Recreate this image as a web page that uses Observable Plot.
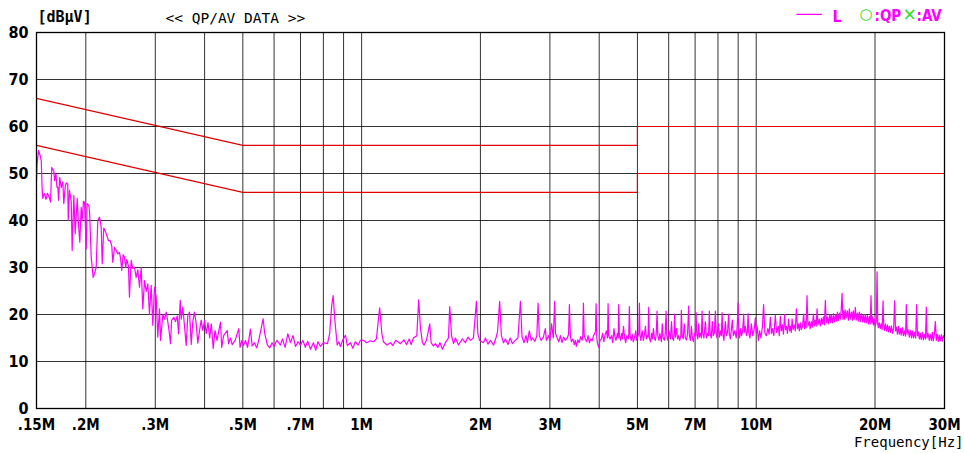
<!DOCTYPE html>
<html>
<head>
<meta charset="utf-8">
<script src="https://cdn.jsdelivr.net/npm/d3@7"></script>
<script src="https://cdn.jsdelivr.net/npm/@observablehq/plot@0.6"></script>
<style>
  html, body { margin: 0; padding: 0; background: #fff; }
  #chart svg { display: block; background: #fff; }
</style>
</head>
<body>
<div id="chart"></div>
<script>
// ---- tick values and labels ----
const xTicks = [0.15, 0.2, 0.3, 0.5, 0.7, 1, 2, 3, 5, 7, 10, 20, 30];
const xTickLabels = [".15M", ".2M", ".3M", ".5M", ".7M", "1M", "2M", "3M", "5M", "7M", "10M", "20M", "30M"];
const xGrid = [0.2, 0.3, 0.4, 0.5, 0.6, 0.7, 0.8, 0.9, 1, 2, 3, 4, 5, 6, 7, 8, 9, 10, 20];
const yTicks = [0, 10, 20, 30, 40, 50, 60, 70, 80];
const yGrid = [10, 20, 30, 40, 50, 60, 70];

// ---- limit lines (QP and AV) ----
const limitFreq = [0.15, 0.5, 5, 5, 30];
const limitQP = [66, 56, 56, 60, 60];
const limitAV = [56, 46, 46, 50, 50];

// ---- measured trace "L" [MHz, dBuV] ----
const traceL = [
[0.150,48.5],[0.1505,52],[0.1518,54.9],[0.1530,54],[0.1542,52.8],[0.1550,47],[0.1556,44.7],[0.1565,45.5],[0.1572,45.7],[0.1585,44.5],[0.1599,45.8],[0.1615,45.0],[0.1628,43.9],[0.1634,48],[0.1640,51.3],[0.1650,50.8],[0.1659,50.6],[0.1667,48.5],[0.1673,49.2],[0.1680,50.0],[0.1690,47.1],[0.1699,47.1],[0.1706,44.3],[0.1718,49.2],[0.1733,47.0],[0.1749,48.2],[0.1759,43.6],[0.1773,47.1],[0.1784,48.0],[0.1800,47.7],[0.1805,40.0],[0.1818,46.4],[0.1837,44.0],[0.1847,33.6],[0.1865,45.3],[0.1880,37.2],[0.1902,44.7],[0.1916,39.3],[0.1931,35.4],[0.1947,42.8],[0.1958,40.0],[0.1973,44.1],[0.1985,43.9],[0.2005,34.0],[0.2016,43.6],[0.2035,43.2],[0.2045,41.7],[0.2064,32.2],[0.2088,27.9],[0.2104,28.7],[0.2125,30.0],[0.2145,40.0],[0.2166,40.7],[0.2188,38.6],[0.2201,30.8],[0.2221,38.4],[0.2240,37.8],[0.2261,36.8],[0.2283,35.7],[0.2306,35.7],[0.2328,34.5],[0.2341,31.1],[0.2365,34.3],[0.2388,33.6],[0.2410,32.9],[0.2434,33.2],[0.2450,32.0],[0.2467,29.4],[0.2487,32.7],[0.2506,32.2],[0.2525,30.0],[0.2540,31.7],[0.2565,30.3],[0.2580,23.7],[0.2606,31.5],[0.2630,29.8],[0.2657,30.0],[0.2683,27.9],[0.2709,29.5],[0.2736,25.8],[0.2763,30.0],[0.2789,21.2],[0.2817,27.2],[0.2845,24.9],[0.2872,26.5],[0.2900,20.1],[0.2929,26.2],[0.2957,17.7],[0.2986,25.8],[0.3016,23.7],[0.3044,15.2],[0.3075,21.2],[0.3093,14.5],[0.3135,20.0],[0.3166,19.0],[0.3198,20.5],[0.3228,18.4],[0.3250,16.6],[0.3279,13.8],[0.3300,18.8],[0.3343,19.4],[0.3376,18.5],[0.3410,19.7],[0.3436,15.9],[0.3470,23.0],[0.3490,19.0],[0.3523,21.6],[0.3558,17.5],[0.3593,13.4],[0.3627,19.8],[0.3663,20.5],[0.3700,13.6],[0.3734,18.5],[0.3771,20.5],[0.3809,18.0],[0.3844,13.9],[0.3883,16.5],[0.3921,18.8],[0.3958,16.6],
[0.400,18.7],[0.404,16.0],[0.408,18.3],[0.412,15.0],[0.416,18.0],[0.4206,12.8],[0.425,16.6],[0.430,14.5],[0.4389,18.4],[0.442,13.0],[0.447,15.5],[0.4564,16.6],[0.460,13.8],[0.465,15.0],[0.470,13.6],[0.478,14.5],[0.4883,17.0],[0.492,13.0],[0.497,14.5],[0.502,13.4],[0.508,14.5],[0.514,13.0],[0.5227,16.9],[0.528,13.3],[0.535,14.0],[0.542,12.9],[0.5486,14.5],[0.555,16.5],[0.5629,19.1],[0.568,16.0],[0.5772,13.5],[0.585,12.9],[0.593,14.0],[0.600,13.2],[0.610,14.5],[0.6228,13.5],[0.630,14.8],[0.640,13.0],[0.650,15.9],[0.6602,14.0],[0.670,15.5],[0.680,13.2],[0.690,14.2],[0.700,13.5],[0.710,14.5],[0.720,13.0],[0.730,14.3],[0.742,12.6],[0.755,14.0],[0.765,12.4],[0.775,14.2],[0.7866,13.2],[0.800,14.0],[0.8194,13.8],[0.830,16.0],[0.840,22.0],[0.847,24.0],[0.855,19.0],[0.867,13.5],[0.875,14.2],[0.884,13.2],[0.895,14.5],[0.910,15.6],[0.920,13.4],[0.937,14.0],[0.950,12.8],[0.964,14.2],[0.980,13.5],[0.993,14.5],
[1.011,14.5],[1.03,14.0],[1.053,14.4],[1.072,14.2],[1.09,14.8],[1.111,21.4],[1.125,16.0],[1.136,14.2],[1.16,13.5],[1.183,14.0],[1.20,13.4],[1.22,14.5],[1.254,13.8],[1.28,14.6],[1.30,13.6],[1.32,14.8],[1.335,13.6],[1.353,15.0],[1.38,15.5],[1.395,23.1],[1.41,17.0],[1.426,14.0],[1.44,13.5],[1.46,14.5],[1.488,18.0],[1.50,14.0],[1.52,13.3],[1.538,13.8],[1.56,13.0],[1.58,14.0],[1.602,12.6],[1.63,14.0],[1.66,15.0],[1.672,21.7],[1.69,15.5],[1.71,13.8],[1.729,15.0],[1.76,13.5],[1.80,14.8],[1.832,14.0],[1.86,15.2],[1.887,14.5],[1.92,15.0],[1.954,22.8],[1.97,16.0],[1.99,14.5],[2.035,14.0],[2.06,15.0],[2.09,13.7],[2.12,14.5],[2.16,13.5],[2.19,15.0],[2.21,16.3],[2.238,22.8],[2.26,15.5],[2.29,14.0],[2.314,14.8],[2.35,13.6],[2.38,15.0],[2.41,13.8],[2.45,14.5],[2.49,15.0],[2.526,22.8],[2.55,15.2],[2.58,14.0],[2.61,15.5],[2.631,14.0],[2.66,16.5],[2.69,14.5],[2.709,15.0],[2.75,14.3],[2.78,15.5],[2.800,22.4],[2.82,15.5],[2.85,14.5],[2.888,15.2],[2.92,17.0],[2.94,14.5],[2.974,15.5],[3.00,14.5],[3.03,18.0],[3.06,15.0],[3.085,22.8],[3.10,16.0],
[3.13,15.0],[3.16,14.2],[3.19,15.5],[3.22,14.0],[3.25,15.2],[3.28,14.5],[3.32,15.0],[3.345,15.8],[3.362,22.1],[3.38,15.5],[3.40,14.2],[3.43,14.8],[3.46,13.6],[3.48,14.5],[3.50,13.2],[3.53,14.6],[3.56,14.0],[3.59,15.3],[3.62,14.5],[3.635,15.5],[3.648,22.4],[3.665,15.5],[3.69,14.8],[3.72,14.2],[3.75,15.5],[3.778,14.0],[3.81,14.8],[3.84,14.4],[3.87,15.5],[3.90,16.0],[3.915,16.5],[3.928,22.3],[3.945,15.0],[3.96,13.8],[3.99,13.0],[4.02,14.5],[4.052,14.8],[4.08,16.0],[4.11,14.2],[4.14,15.6],[4.17,16.5],[4.20,15.0],[4.213,22.3],[4.23,15.5],[4.26,14.8],[4.30,15.5],[4.33,14.0],[4.36,17.0],[4.38,15.5],[4.41,14.5],[4.45,16.0],[4.47,15.0],[4.482,22.1],[4.50,15.5],[4.53,14.5],[4.56,16.0],[4.58,14.8],[4.61,17.5],[4.64,15.0],[4.67,14.0],[4.70,15.5],[4.74,14.8],[4.755,16.0],[4.770,21.7],[4.79,15.5],[4.82,14.5],[4.85,15.8],[4.88,14.2],[4.912,15.0],[4.95,16.5],[4.98,14.5],[5.02,15.5],[5.04,16.0],[5.057,22.4],[5.075,15.5],[5.10,14.5],[5.14,16.5],[5.176,14.5],[5.21,15.8],[5.24,17.5],[5.27,14.8],[5.30,15.5],[5.32,15.2],[5.339,21.5],[5.36,15.0],[5.40,14.2],[5.43,16.0],[5.456,14.8],[5.49,17.0],[5.52,15.0],[5.55,14.5],[5.58,16.0],[5.607,20.7],[5.63,15.5],[5.67,14.5],[5.70,16.0],[5.75,14.2],[5.78,18.0],[5.81,15.0],[5.85,14.5],[5.88,15.8],[5.910,20.7],[5.935,15.5],[5.97,14.5],[6.01,16.5],[6.060,14.8],[6.10,18.5],[6.13,15.0],[6.17,14.5],[6.19,15.8],[6.213,20.1],[6.24,15.2],[6.28,17.0],[6.32,14.8],[6.349,15.5],[6.40,14.5],[6.44,15.5],[6.461,20.9],[6.49,15.5],[6.53,14.8],[6.57,18.0],[6.614,15.0],[6.66,14.6],[6.70,16.0],[6.743,21.8],[6.77,15.5],[6.81,14.5],[6.85,17.5],[6.890,15.0],[6.93,14.2],[6.98,16.0],[7.01,15.5],[7.040,20.4],[7.07,15.8],[7.11,14.8],[7.15,18.0],[7.177,15.2],[7.22,16.0],[7.26,15.0],[7.291,20.7],[7.32,16.0],[7.37,15.0],[7.432,18.5],[7.48,15.0],[7.53,16.0],[7.57,15.5],[7.608,20.7],[7.64,16.0],[7.69,15.0],[7.742,18.5],[7.78,15.5],[7.83,16.0],[7.879,20.7],[7.91,16.5],[7.95,15.0],[8.018,18.0],[8.07,15.2],[8.12,16.5],[8.16,15.5],[8.193,20.4],[8.23,16.0],[8.28,14.5],[8.352,18.5],[8.40,15.5],[8.46,16.2],[8.514,20.1],[8.55,15.8],[8.60,14.8],[8.700,18.8],[8.75,15.5],[8.82,16.5],[8.90,15.0],[8.95,17.5],[8.995,22.4],[9.03,16.0],[9.08,15.0],[9.116,17.0],[9.18,15.5],[9.24,16.5],[9.293,20.1],[9.33,16.2],[9.386,17.5],[9.45,15.5],[9.50,16.5],[9.535,20.2],[9.58,16.0],[9.64,15.0],[9.721,18.0],[9.80,15.5],[9.88,16.8],[9.950,19.3],[10.00,16.0],[10.05,17.5],
[10.13,14.5],[10.20,16.5],[10.28,15.0],[10.37,17.5],[10.44,22.1],[10.52,16.0],[10.61,15.5],[10.70,17.0],[10.78,15.8],[10.86,19.4],[10.93,16.0],[10.99,17.0],[11.08,15.5],[11.18,19.8],[11.26,16.2],[11.38,17.5],[11.44,15.5],[11.51,19.6],[11.58,16.5],[11.65,17.8],[11.72,15.8],[11.80,20.0],[11.86,16.8],[11.92,17.5],[12.00,16.0],[12.08,19.0],[12.15,16.5],[12.21,17.5],[12.27,16.2],[12.33,19.0],[12.40,16.8],[12.49,17.8],[12.56,16.5],[12.64,21.2],[12.72,17.0],[12.80,18.0],[12.86,16.5],[12.94,18.2],[13.01,16.8],[13.10,17.5],[13.19,20.1],[13.26,17.0],[13.32,18.5],[13.38,17.2],[13.45,24.0],[13.52,17.5],[13.63,18.5],[13.70,17.0],[13.79,18.5],[13.87,17.3],[13.96,20.1],[14.04,17.6],[14.12,18.8],[14.19,17.5],[14.26,21.2],[14.34,17.8],[14.45,19.0],[14.55,17.6],[14.63,19.2],[14.71,18.0],[14.80,19.5],[14.88,17.8],[14.97,23.0],[15.05,18.2],[15.15,19.5],[15.23,18.0],[15.35,20.0],[15.42,18.3],[15.50,19.8],[15.60,18.2],[15.70,20.2],[15.78,18.5],[15.90,20.0],[15.98,18.6],[16.06,20.5],[16.15,18.7],[16.25,20.3],[16.34,19.0],[16.42,21.0],[16.50,24.5],[16.58,19.0],[16.65,20.8],[16.72,19.0],[16.80,21.0],[16.90,19.2],[17.02,20.8],[17.12,18.8],[17.22,21.2],[17.32,19.0],[17.45,20.5],[17.55,18.8],[17.62,20.8],[17.72,19.0],[17.83,21.5],[17.92,18.8],[18.05,20.3],[18.14,18.6],[18.25,20.5],[18.35,18.5],[18.47,20.2],[18.58,18.4],[18.68,20.0],[18.79,18.3],[18.90,20.0],[19.00,18.2],[19.13,19.8],[19.25,18.0],[19.35,19.6],[19.45,18.0],[19.54,24.0],[19.62,18.2],[19.70,19.5],[19.81,17.8],[19.92,19.0],[20.04,17.5],[20.15,18.5],[20.24,29.1],[20.32,18.0],[20.39,17.2],[20.50,18.3],[20.63,17.0],[20.75,18.0],[20.85,16.8],[20.96,22.9],[21.05,17.2],[21.15,16.6],[21.24,18.0],[21.38,16.5],[21.50,17.8],[21.62,16.3],[21.75,17.5],[21.88,16.2],[22.00,17.6],[22.15,16.0],[22.30,17.2],[22.43,22.9],[22.55,16.5],[22.68,17.3],[22.79,15.8],[22.95,17.5],[23.05,15.8],[23.19,17.0],[23.30,15.6],[23.45,17.2],[23.60,15.5],[23.75,16.5],[23.90,15.4],[24.01,22.1],[24.12,15.8],[24.25,16.8],[24.44,15.2],[24.60,16.6],[24.75,15.0],[24.87,16.5],[25.05,15.0],[25.20,16.2],[25.35,15.0],[25.50,22.1],[25.62,15.5],[25.75,16.3],[25.91,14.8],[26.05,16.0],[26.20,14.7],[26.36,16.2],[26.52,14.6],[26.70,15.8],[26.85,14.8],[26.98,21.6],[27.10,15.0],[27.25,16.0],[27.46,14.5],[27.60,15.8],[27.80,14.5],[27.95,16.2],[28.10,14.4],[28.25,15.5],[28.44,18.5],[28.60,14.5],[28.75,15.8],[28.94,14.3],[29.10,15.6],[29.25,14.4],[29.45,15.7],[29.60,14.3],[29.80,15.5],[30.00,15.0]
];

// ---- texts ----
const unitText = "[dBμV]";
const titleText = "<< QP/AV DATA >>";
const xAxisTitle = "Frequency[Hz]";
const legendSeries = "L";
const legendQP = ":QP";
const legendAV = ":AV";

const xLabelFor = d => {
  const i = xTicks.findIndex(t => Math.abs(t - d) <= 1e-6 * t);
  return i >= 0 ? xTickLabels[i] : "";
};
const qpRows = limitFreq.map((f, i) => ({f, v: limitQP[i]}));
const avRows = limitFreq.map((f, i) => ({f, v: limitAV[i]}));

const boldFont = "'DejaVu Sans Condensed', 'DejaVu Sans', sans-serif";
const monoFont = "'DejaVu Sans Mono', monospace";
const magenta = "#ff00ff";
const green = "#22e022";

const chart = Plot.plot({
  width: 964,
  height: 453,
  marginLeft: 36,
  marginRight: 20,
  marginTop: 32,
  marginBottom: 45,
  style: {background: "#fff", overflow: "visible"},
  x: {type: "log", domain: [0.15, 30], axis: null},
  y: {domain: [0, 80]},
  marks: [
    Plot.gridX(xGrid, {stroke: "#000", strokeOpacity: 0.8, strokeWidth: 1}),
    Plot.gridY(yGrid, {stroke: "#000", strokeOpacity: 0.8, strokeWidth: 1}),
    Plot.line(traceL, {x: d => d[0], y: d => d[1], stroke: magenta, strokeWidth: 1.2}),
    Plot.line(qpRows, {x: "f", y: "v", stroke: "#e00000", strokeWidth: 1.2}),
    Plot.line(avRows, {x: "f", y: "v", stroke: "#e00000", strokeWidth: 1.2}),
    Plot.frame({stroke: "#000", strokeWidth: 1.3}),
    Plot.text(xTicks, {
      x: d => d, frameAnchor: "bottom", dy: 17, lineAnchor: "middle", textAnchor: "middle",
      text: d => xLabelFor(d),
      fontSize: 15, fontWeight: "bold", fontFamily: boldFont, fill: "#000"
    }),
    Plot.axisY({
      ticks: yTicks, tickSize: 0, tickPadding: 8, label: null,
      fontSize: 16, fontWeight: "bold", fontFamily: boldFont, fill: "#000"
    }),
    Plot.text([unitText], {frameAnchor: "top-left", dx: 1, dy: -15, textAnchor: "start", lineAnchor: "middle",
      fontSize: 15, fontWeight: "bold", fontFamily: monoFont, fill: "#000"}),
    Plot.text([titleText], {frameAnchor: "top-left", dx: 129, dy: -14, textAnchor: "start", lineAnchor: "middle",
      fontSize: 14.5, fontFamily: monoFont, fill: "#000"}),
    Plot.text([xAxisTitle], {frameAnchor: "bottom-right", dx: 19, dy: 34, textAnchor: "end", lineAnchor: "middle",
      fontSize: 14, fontFamily: monoFont, fill: "#000"}),
    Plot.text(["───"], {frameAnchor: "top-right", dx: -148, dy: -18, textAnchor: "start", lineAnchor: "middle",
      fontSize: 14, fontFamily: monoFont, fill: magenta}),
    Plot.text([legendSeries], {frameAnchor: "top-right", dx: -112, dy: -16, textAnchor: "start", lineAnchor: "middle",
      fontSize: 16, fontWeight: "bold", fontFamily: boldFont, fill: magenta}),
    Plot.text(["○"], {frameAnchor: "top-right", dx: -85, dy: -18, textAnchor: "start", lineAnchor: "middle",
      fontSize: 15, fontFamily: "'DejaVu Sans', sans-serif", fill: green}),
    Plot.text([legendQP], {frameAnchor: "top-right", dx: -70, dy: -16, textAnchor: "start", lineAnchor: "middle",
      fontSize: 15, fontWeight: "bold", fontFamily: boldFont, fill: magenta}),
    Plot.text(["×"], {frameAnchor: "top-right", dx: -42, dy: -18, textAnchor: "start", lineAnchor: "middle",
      fontSize: 17, fontFamily: "'DejaVu Sans', sans-serif", fill: green}),
    Plot.text([legendAV], {frameAnchor: "top-right", dx: -28, dy: -16, textAnchor: "start", lineAnchor: "middle",
      fontSize: 15, fontWeight: "bold", fontFamily: boldFont, fill: magenta})
  ]
});
document.getElementById("chart").appendChild(chart);
</script>
</body>
</html>
